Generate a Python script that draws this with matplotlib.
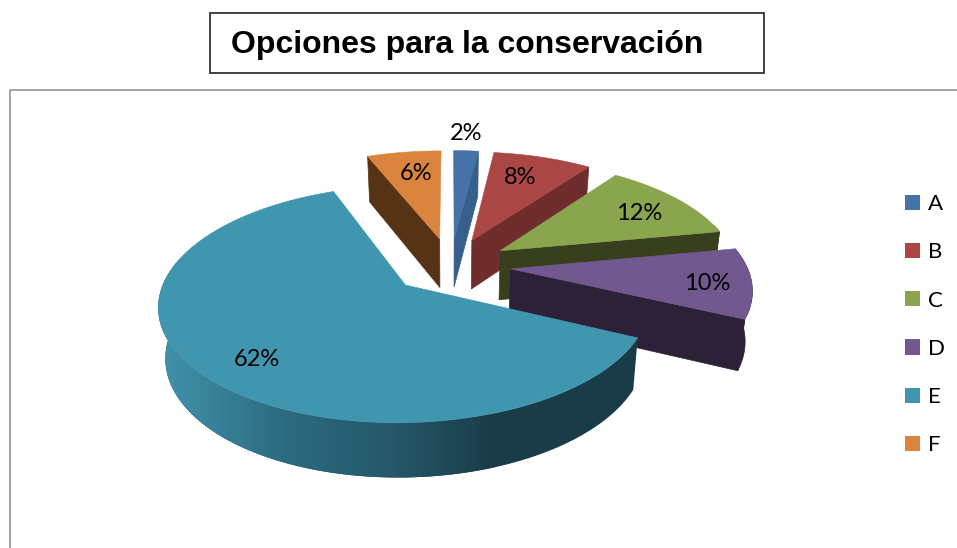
import numpy as np
from matplotlib import pyplot as plt
from matplotlib.colors import LinearSegmentedColormap
from matplotlib.patches import Patch, Polygon, Rectangle

categories = ['A', 'B', 'C', 'D', 'E', 'F']
values = [2, 8, 12, 10, 62, 6]
top_colors = ['#4573a7', '#aa4644', '#89a54e', '#71588f', '#4096af', '#db843d']
side_colors = ['#365f8b', '#6f2d2e', '#383f1c', '#2c2137', '#1a3c48', '#573316']
label_xy = [(466, 133), (520, 177), (639, 213), (707, 284), (257, 359), (416, 173)]

title = 'Opciones para la conservación'

# pie geometry, in pixels
cx, cy = 450.5, 265.4
radius = 236
tilt = 0.4636
persp = 0.156
explode = 0.255
depth = 49.5
base_shrink = 0.976


def project(u, v):
    # u to the right, v away from the viewer, far side gets smaller
    s = 1 / (1 + persp * v)
    return cx + radius * u * s, cy - radius * tilt * v * s, s


def plane(mid, theta, r):
    # angle runs clockwise from the top, slice pushed out along its middle
    u = explode * np.sin(mid) + r * np.sin(theta)
    v = explode * np.cos(mid) + r * np.cos(theta)
    return u, v


def top_point(mid, theta, r=1.0):
    x, y, s = project(*plane(mid, theta, r))
    return np.column_stack([np.atleast_1d(x), np.atleast_1d(y)])


def base_point(mid, theta, r=1.0):
    x, y, s = project(*plane(mid, theta, r))
    x = cx + (x - cx) * base_shrink
    y = y + depth * np.sqrt(s)
    return np.column_stack([np.atleast_1d(x), np.atleast_1d(y)])


fig = plt.figure(figsize=(9.57, 5.48), dpi=100)
ax = fig.add_axes([0, 0, 1, 1])

# chart frame and title box
ax.plot([10, 10, 957], [548, 89.5, 89.5], color='#8a8a8a', lw=1.1)
ax.add_patch(Rectangle((210, 13), 554, 60, fc='white', ec='#333333', lw=1.3))
ax.text(231, 44.5, title, family='Liberation Sans', weight='bold', fontsize=23,
        va='center', ha='left', color='black')

edges = np.radians(np.concatenate([[0], np.cumsum(values)]) * 3.6)
rim_cmap = LinearSegmentedColormap.from_list(
    'rim', [(0, '#3f8fa8'), (0.06, '#3f8fa8'), (0.4, '#2c6a7f'), (0.7, '#25586a'), (1, '#1a3c48')])

# far slices first, E last since it sits in front
for z, i in enumerate([5, 0, 1, 2, 3, 4]):
    start, end = edges[i], edges[i + 1]
    mid = (start + end) / 2
    theta = np.linspace(start, end, 160)
    top = top_point(mid, theta)
    apex_top = top_point(mid, 0.0, r=0.0)
    apex_low = base_point(mid, 0.0, r=0.0)
    zo = 2 + z

    # outer wall, only the part on the near side of the pie
    near = theta[np.cos(theta) <= 0.25]
    if len(near) > 1:
        wall = Polygon(np.vstack([top_point(mid, near), base_point(mid, near)[::-1]]),
                       fc=side_colors[i], ec=side_colors[i], lw=0.5, zorder=zo)
        ax.add_patch(wall)
        if categories[i] == 'E':
            # lit from the left, darkens towards the right
            wall.set_edgecolor('none')
            img = ax.imshow(np.linspace(0, 1, 256).reshape(1, -1), cmap=rim_cmap, aspect='auto',
                            extent=(150, 495, 500, 280), zorder=zo + 0.2)
            img.set_clip_path(wall)

    # cut faces, only the ones turned towards the viewer
    if categories[i] != 'E':
        cut = start if categories[i] == 'F' else end
        face = [apex_top[0], top_point(mid, cut)[0], base_point(mid, cut)[0], apex_low[0]]
        ax.add_patch(Polygon(face, fc=side_colors[i], ec=side_colors[i], lw=0.5, zorder=zo))

    # top face
    ax.add_patch(Polygon(np.vstack([apex_top, top]), fc=top_colors[i], ec=top_colors[i], lw=0.4,
                         zorder=zo + 0.5))

for val, (x, y) in zip(values, label_xy):
    ax.text(x, y, f'{val}%', family='Lato', fontsize=17, ha='center', va='center',
            color='black', zorder=10)

ax.set_xlim(0, 957)
ax.set_ylim(548, 0)
ax.axis('off')

handles = [Patch(fc=c, ec='none') for c in top_colors]
ax.legend(handles, categories, loc='upper left', bbox_to_anchor=(898, 187.5),
          bbox_transform=ax.transData, frameon=False,
          prop={'family': 'Lato', 'size': 16}, handlelength=0.68, handleheight=0.68,
          handletextpad=0.36, labelspacing=1.27, borderpad=0.3, borderaxespad=0)

fig.savefig('out.png', dpi=100)
